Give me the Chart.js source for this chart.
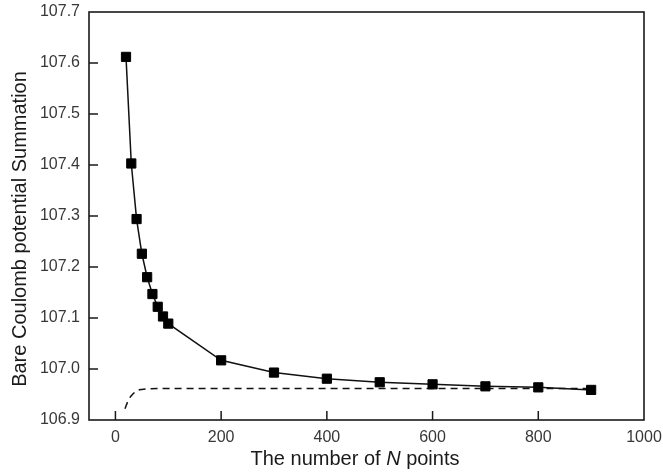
<!DOCTYPE html>
<html>
<head>
<meta charset="utf-8">
<script src="https://cdn.jsdelivr.net/npm/chart.js@4"></script>
<style>
  html, body { margin: 0; padding: 0; background: #fff; }
  #wrap { width: 663px; height: 472px; position: relative; }
</style>
</head>
<body>
<div id="wrap"><canvas id="c" width="663" height="472"></canvas></div>
<script>
// ---- data ----
const nPoints = [20, 30, 40, 50, 60, 70, 80, 90, 100, 200, 300, 400, 500, 600, 700, 800, 900];
const summation = [107.612, 107.403, 107.294, 107.226, 107.180, 107.147, 107.122, 107.103, 107.089,
                   107.017, 106.993, 106.981, 106.974, 106.970, 106.966, 106.964, 106.959];
const limitX = [18, 25, 33, 42, 50, 60, 80, 100, 200, 300, 400, 500, 600, 700, 800, 900];
const limitY = [106.922, 106.940, 106.951, 106.958, 106.960, 106.961, 106.962, 106.962, 106.962,
                106.962, 106.962, 106.962, 106.962, 106.962, 106.962, 106.962];
const xTicks = [0, 200, 400, 600, 800, 1000];
const yTicks = [106.9, 107.0, 107.1, 107.2, 107.3, 107.4, 107.5, 107.6, 107.7];
const xTitleParts = ["The number of ", "N", " points"];
const yTitle = "Bare Coulomb potential Summation";

const FONT = "'Liberation Sans', Arial, sans-serif";

const framePlugin = {
  id: 'frame',
  afterDraw(chart) {
    const ctx = chart.ctx;
    const a = chart.chartArea;
    const xs = chart.scales.x, ys = chart.scales.y;
    ctx.save();
    ctx.strokeStyle = '#1a1a1a';
    ctx.lineWidth = 1.6;
    ctx.strokeRect(a.left, a.top, a.right - a.left, a.bottom - a.top);
    // inward ticks
    ctx.lineWidth = 1.5;
    ctx.beginPath();
    xTicks.forEach(v => {
      const px = xs.getPixelForValue(v);
      if (px > a.left + 1 && px < a.right - 1) {
        ctx.moveTo(px, a.bottom);
        ctx.lineTo(px, a.bottom - 9);
      }
    });
    yTicks.forEach(v => {
      const py = ys.getPixelForValue(v);
      if (py > a.top + 1 && py < a.bottom - 1) {
        ctx.moveTo(a.left, py);
        ctx.lineTo(a.left + 9, py);
      }
    });
    ctx.stroke();
    ctx.fillStyle = '#1a1a1a';
    ctx.textBaseline = 'middle';
    // x axis title with italic N
    const fonts = ["20px " + FONT, "italic 20px " + FONT, "20px " + FONT];
    let widths = xTitleParts.map((t, i) => { ctx.font = fonts[i]; return ctx.measureText(t).width; });
    const total = widths.reduce((s, w) => s + w, 0);
    let x = 355 - total / 2;
    ctx.textAlign = 'left';
    xTitleParts.forEach((t, i) => {
      ctx.font = fonts[i];
      ctx.fillText(t, x, 459);
      x += widths[i];
    });
    // y axis title
    ctx.save();
    ctx.translate(20, 229);
    ctx.rotate(-Math.PI / 2);
    ctx.textAlign = 'center';
    ctx.font = "20px " + FONT;
    ctx.fillText(yTitle, 0, 0);
    ctx.restore();
    ctx.restore();
  }
};

new Chart(document.getElementById('c'), {
  type: 'scatter',
  data: {
    datasets: [
      {
        label: 'Summation',
        data: nPoints.map((n, i) => ({ x: n, y: summation[i] })),
        showLine: true,
        borderColor: '#111',
        backgroundColor: '#111',
        borderWidth: 1.5,
        pointStyle: 'rect',
        pointRadius: 6.5,
        pointBorderWidth: 1,
        pointBackgroundColor: '#000',
        pointBorderColor: '#000',
        tension: 0
      },
      {
        label: 'Limit',
        data: limitX.map((n, i) => ({ x: n, y: limitY[i] })),
        showLine: true,
        borderColor: '#111',
        borderWidth: 1.5,
        borderDash: [7, 5],
        pointRadius: 0,
        cubicInterpolationMode: 'monotone'
      }
    ]
  },
  options: {
    responsive: false,
    animation: false,
    layout: { padding: { left: 0, top: 12, right: 19, bottom: 0 } },
    plugins: { legend: { display: false }, tooltip: { enabled: false } },
    scales: {
      x: {
        type: 'linear',
        min: -50,
        max: 1000,
        afterBuildTicks: s => { s.ticks = xTicks.map(v => ({ value: v })); },
        afterFit: s => { s.height = 52; s.paddingLeft = 0; s.paddingRight = 0; },
        grid: { display: false, drawTicks: false },
        border: { display: false },
        ticks: {
          color: '#383838',
          font: { family: FONT, size: 16 },
          padding: 8,
          maxRotation: 0,
          callback: v => String(v)
        }
      },
      y: {
        type: 'linear',
        min: 106.9,
        max: 107.7,
        afterBuildTicks: s => { s.ticks = yTicks.map(v => ({ value: v })); },
        afterFit: s => { s.width = 89; s.paddingTop = 0; s.paddingBottom = 0; },
        grid: { display: false, drawTicks: false },
        border: { display: false },
        ticks: {
          color: '#383838',
          font: { family: FONT, size: 16 },
          padding: 9,
          callback: v => Number(v).toFixed(1)
        }
      }
    }
  },
  plugins: [framePlugin]
});
</script>
</body>
</html>
